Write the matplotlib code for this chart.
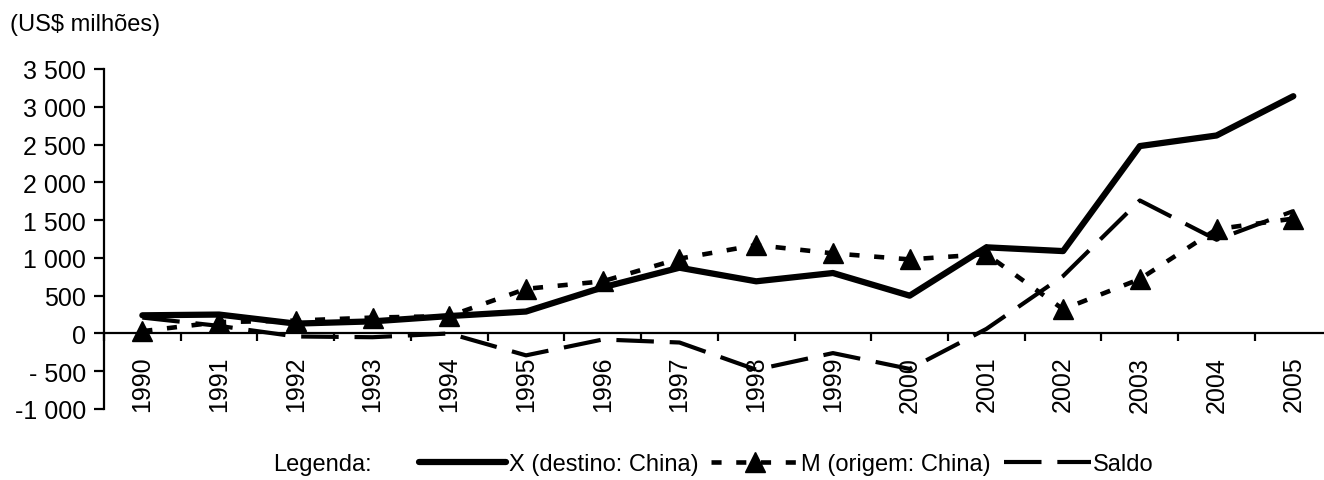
import matplotlib.pyplot as plt
import numpy as np

plt.rcParams['font.family'] = ['Liberation Sans', 'DejaVu Sans']

anos = ["1990", "1991", "1992", "1993", "1994", "1995", "1996", "1997",
        "1998", "1999", "2000", "2001", "2002", "2003", "2004", "2005"]
exportacoes = [240, 250, 130, 160, 230, 290, 610, 870, 690, 800, 500, 1140, 1090, 2480, 2620, 3140]
importacoes = [30, 150, 170, 210, 230, 590, 690, 990, 1170, 1060, 980, 1050, 320, 720, 1380, 1520]
saldo = [210, 100, -40, -50, 0, -290, -80, -120, -480, -260, -470, 60, 760, 1760, 1240, 1620]

yticks = [-1000, -500, 0, 500, 1000, 1500, 2000, 2500, 3000, 3500]
ytick_labels = ["-1 000", "- 500", "0", "500", "1 000", "1 500", "2 000", "2 500", "3 000", "3 500"]

fig = plt.figure(figsize=(13.24, 4.81), dpi=100)
ax = fig.add_axes([104 / 1324, 71 / 481, 1220 / 1324, 340 / 481])

x = np.arange(len(anos))
ax.plot(x, exportacoes, color="black", lw=4.5, solid_capstyle="round",
        label="X (destino: China)")
ax.plot(x, importacoes, color="black", lw=3.3, dashes=(2.2, 3.2), marker="^",
        markersize=14, label="M (origem: China)")
ax.plot(x, saldo, color="black", lw=3, dashes=(9, 3.8), label="Saldo")

ax.set_xlim(-0.5, 15.4)
ax.set_ylim(-1000, 3500)

for s in ["top", "right"]:
    ax.spines[s].set_visible(False)
ax.spines["bottom"].set_position(("data", 0))
ax.spines["bottom"].set_linewidth(1.6)
ax.spines["left"].set_linewidth(1.6)

ax.set_yticks(yticks)
ax.set_yticklabels(ytick_labels, fontsize=18)
ax.tick_params(axis="y", direction="out", length=7, width=1.6, pad=6)

ax.set_xticks(x - 0.5)
ax.set_xticklabels([])
ax.set_xticks(x, minor=True)
ax.set_xticklabels(anos, minor=True, rotation=90, fontsize=18)
ax.tick_params(axis="x", which="major", direction="out", length=6, width=1.6)
ax.tick_params(axis="x", which="minor", length=0, pad=16)

fig.text(10 / 1324, 1 - 25 / 481, "(US$ milhões)", fontsize=17, va="center", ha="left")

fig.text(273 / 1324, 1 - 465 / 481, "Legenda:", fontsize=17, va="center", ha="left")
fig.legend(loc="center left", bbox_to_anchor=(419 / 1324, 1 - 465 / 481), ncol=3,
           frameon=False, fontsize=17, handlelength=3.7, handletextpad=0.1,
           columnspacing=0.55, borderpad=0, borderaxespad=0, numpoints=1)

fig.savefig("out.png", dpi=100)
